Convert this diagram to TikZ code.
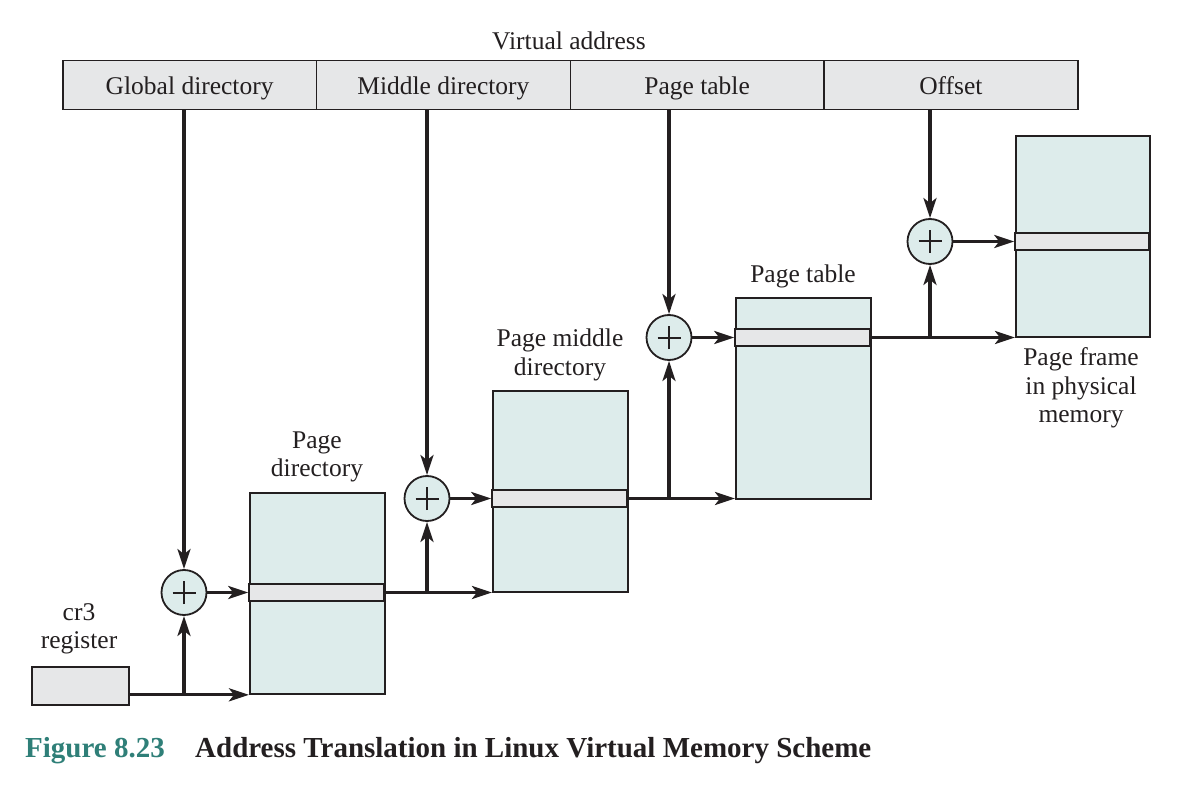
\documentclass[tikz,border=0pt]{standalone}
\usepackage{fontspec}
\setmainfont{Liberation Serif}
\usetikzlibrary{arrows.meta}
\definecolor{boxfill}{HTML}{DDECEB}
\definecolor{cellgray}{HTML}{E6E7E8}
\definecolor{capteal}{HTML}{2F7F78}
\definecolor{ink}{HTML}{231F20}
\begin{document}
\begin{tikzpicture}[x=1pt,y=-1pt,
 cell/.style={draw=ink, line width=1.5pt, fill=cellgray, minimum width=253.75pt, minimum height=49pt, inner sep=0pt, anchor=north west, text=ink, text height=19pt, text depth=0pt, font=\fontsize{25.5}{29}\selectfont},
 memory/.style={draw=ink, line width=1.8pt, fill=boxfill, minimum width=135pt, minimum height=201pt, inner sep=0pt, anchor=north west},
 stripe/.style={draw=ink, line width=1.5pt, fill=cellgray, minimum width=135pt, minimum height=17pt, inner sep=0pt},
 adder/.style={circle, draw=ink, line width=1.8pt, fill=boxfill, minimum size=45pt, inner sep=0pt,
   path picture={\draw[ink, line width=2pt]
     ([xshift=-11.5pt]path picture bounding box.center) -- ([xshift=11.5pt]path picture bounding box.center)
     ([yshift=-11.5pt]path picture bounding box.center) -- ([yshift=11.5pt]path picture bounding box.center);}},
 conn/.style={draw=ink, line width=3.3pt},
 arr/.style={conn, -{Stealth[length=20pt,width=13pt,inset=5pt]}},
 lbl/.style={font=\fontsize{25.5}{28.5}\selectfont, align=center, text=ink}]
\useasboundingbox (0,0) rectangle (1186,786);
% virtual address bar
\node[lbl, anchor=base] (va) at (569,50) {Virtual address};
\node[cell] (gd) at (62,60) {Global directory};
\node[cell] (md) at (315.75,60) {Middle directory};
\node[cell] (ptf) at (569.5,60) {Page table};
\node[cell] (off) at (823.25,60) {Offset};
% memory boxes
\node[memory] (pd) at (249,492) {};
\node[memory] (pmd) at (492,390) {};
\node[memory] (ptb) at (735,297) {};
\node[memory, minimum width=134pt] (pf) at (1015,135) {};
\node[stripe] (s1) at (316.5,592.5) {};
\node[stripe] (s2) at (559.5,498.5) {};
\node[stripe] (s3) at (802.5,337.5) {};
\node[stripe, minimum width=134pt] (s4) at (1082,241.5) {};
% cr3 register
\node[draw=ink, line width=1.8pt, fill=cellgray, minimum width=97pt, minimum height=38pt, inner sep=0pt, anchor=north west] (cr3) at (31,666) {};
% adders
\node[adder] (a1) at (184,592.5) {};
\node[adder] (a2) at (427,498.5) {};
\node[adder] (a3) at (669,337.5) {};
\node[adder] (a4) at (930,241.5) {};
% labels
\node[lbl] (lcr3) at (79,629) {cr3\\register};
\node[lbl] (lpd) at (317,457) {Page\\directory};
\node[lbl] (lpmd) at (560,355) {Page middle\\directory};
\node[lbl] (lpt) at (803,276) {Page table};
\node[lbl] (lpf) at (1081,388) {Page frame\\in physical\\memory};
% connectors
\coordinate (j1) at (a1 |- pd.south);
\draw[arr] (cr3.east |- pd.south) -- (pd.south west);
\draw[arr] (j1) -- (a1.south);
\draw[arr] (gd.south -| a1) -- (a1.north);
\draw[arr] (a1.east) -- (s1.west);
\coordinate (j2) at (a2 |- s1.east);
\draw[arr] (s1.east) -- (s1.east -| pmd.west);
\draw[arr] (j2) -- (a2.south);
\draw[arr] (md.south -| a2) -- (a2.north);
\draw[arr] (a2.east) -- (s2.west);
\coordinate (j3) at (a3 |- s2.east);
\draw[arr] (s2.east) -- (s2.east -| ptb.west);
\draw[arr] (j3) -- (a3.south);
\draw[arr] (ptf.south -| a3) -- (a3.north);
\draw[arr] (a3.east) -- (s3.west);
\coordinate (j4) at (a4 |- s3.east);
\draw[arr] (s3.east) -- (s3.east -| pf.west);
\draw[arr] (j4) -- (a4.south);
\draw[arr] (off.south -| a4) -- (a4.north);
\draw[arr] (a4.east) -- (s4.west);
% caption
\node[anchor=base west, inner sep=0pt, text=capteal, font=\fontsize{29}{34}\selectfont\bfseries] (fig) at (25,757) {Figure 8.23};
\node[anchor=base west, inner sep=0pt, text=ink, font=\fontsize{29}{34}\selectfont\bfseries] (cap) at (195,757) {Address Translation in Linux Virtual Memory Scheme};
\end{tikzpicture}
\end{document}
